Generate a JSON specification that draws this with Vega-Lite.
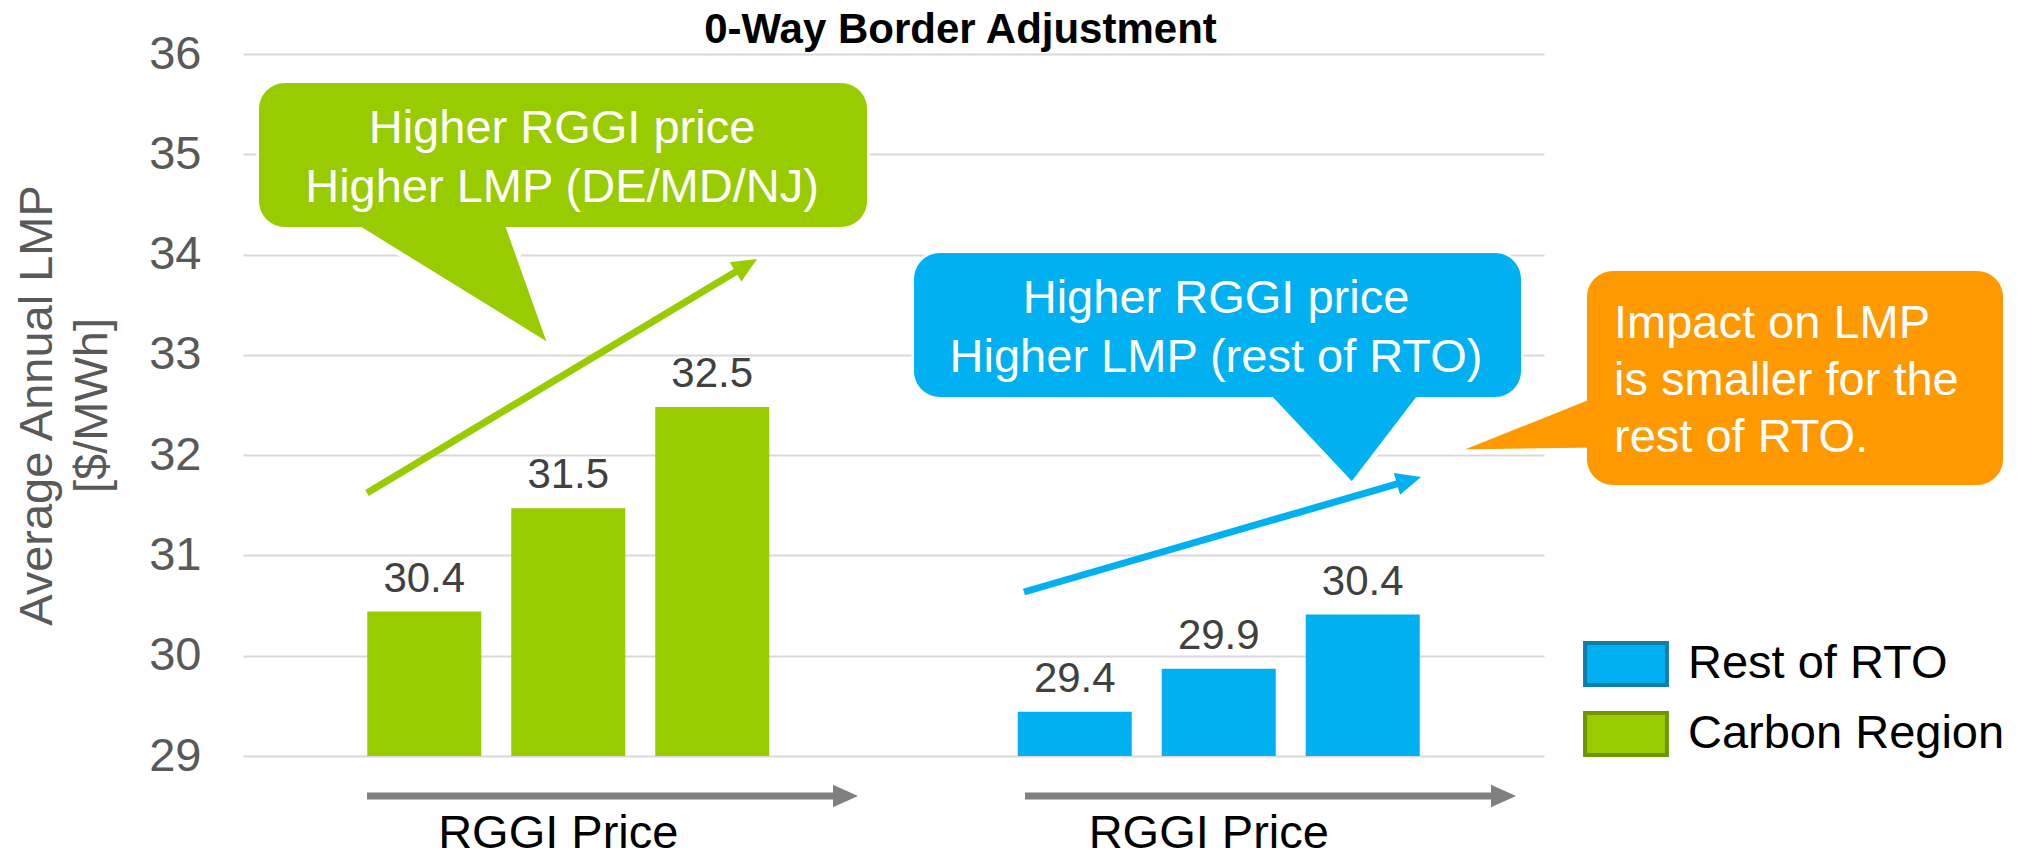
{
  "$schema": "https://vega.github.io/schema/vega-lite/v6.json",
  "width": 1301,
  "height": 702,
  "autosize": {"type": "none"},
  "padding": {"left": 243, "top": 54, "right": 488, "bottom": 102},
  "background": "white",
  "config": {"font": "Liberation Sans", "view": {"stroke": null}},
  "title": {"text": "0-Way Border Adjustment", "fontSize": 42, "fontWeight": "bold", "color": "black", "frame": "group", "anchor": "middle", "dx": 67, "offset": 0, "dy": 22},
  "datasets": {
    "bars": [
      {"region": "Carbon Region", "level": "Low", "value": 30.44},
      {"region": "Carbon Region", "level": "Mid", "value": 31.47},
      {"region": "Carbon Region", "level": "High", "value": 32.48},
      {"region": "Rest of RTO", "level": "Low", "value": 29.44},
      {"region": "Rest of RTO", "level": "Mid", "value": 29.87},
      {"region": "Rest of RTO", "level": "High", "value": 30.41}
    ],
    "boxes": [
      {"box": "green", "x1": 0.0246, "x2": 0.9593, "y1": 35.711, "y2": 34.275},
      {"box": "blue", "x1": 1.0315, "x2": 1.9646, "y1": 34.0157, "y2": 32.5798},
      {"box": "orange", "x1": 2.0661, "x2": 2.7056, "y1": 33.8362, "y2": 31.7023}
    ],
    "pointers": [
      {"box": "green", "i": 1, "px": 0.1522, "pv": 34.3647},
      {"box": "green", "i": 2, "px": 0.4735, "pv": 33.0783},
      {"box": "green", "i": 3, "px": 0.4028, "pv": 34.3647},
      {"box": "blue", "i": 1, "px": 1.5634, "pv": 32.6795},
      {"box": "blue", "i": 2, "px": 1.7048, "pv": 31.7023},
      {"box": "blue", "i": 3, "px": 1.8201, "pv": 32.6795},
      {"box": "orange", "i": 1, "px": 2.0815, "pv": 32.6097},
      {"box": "orange", "i": 2, "px": 1.8586, "pv": 32.0313},
      {"box": "orange", "i": 3, "px": 2.0815, "pv": 32.0513}
    ],
    "notes": [
      {"kind": "center", "note": "Higher RGGI price", "nx": 0.4904, "nv": 35.1125},
      {"kind": "center", "note": "Higher LMP (DE/MD/NJ)", "nx": 0.4904, "nv": 34.524},
      {"kind": "center", "note": "Higher RGGI price", "nx": 1.4958, "nv": 33.4174},
      {"kind": "center", "note": "Higher LMP (rest of RTO)", "nx": 1.4958, "nv": 32.8291},
      {"kind": "left", "note": "Impact on LMP", "nx": 2.1076, "nv": 33.1681},
      {"kind": "left", "note": "is smaller for the", "nx": 2.1076, "nv": 32.5997},
      {"kind": "left", "note": "rest of RTO.", "nx": 2.1076, "nv": 32.0313}
    ],
    "arrows": [
      {"arr": "green", "ax1": 0.1906, "av1": 31.6225, "ax2": 0.7703, "av2": 33.879},
      {"arr": "blue", "ax1": 1.2006, "av1": 30.6353, "ax2": 1.7888, "av2": 31.7402},
      {"arr": "gray", "ax1": 0.1906, "av1": 28.6011, "ax2": 0.9239, "av2": 28.6011},
      {"arr": "gray", "ax1": 1.2022, "av1": 28.6011, "ax2": 1.9355, "av2": 28.6011}
    ],
    "heads": [
      {"arr": "green", "hx": 0.7902, "hv": 33.9558, "ang": 329},
      {"arr": "blue", "hx": 1.8109, "hv": 31.7821, "ang": 344},
      {"arr": "gray", "hx": 0.9454, "hv": 28.6011, "ang": 0},
      {"arr": "gray", "hx": 1.957, "hv": 28.6011, "ang": 0}
    ]
  },
  "layer": [
    {
      "layer": [
        {
          "data": {"name": "bars"},
          "mark": {"type": "bar"},
          "encoding": {
            "x": {"field": "region", "type": "nominal",
              "scale": {"domain": ["Carbon Region", "Rest of RTO"], "paddingInner": 0, "paddingOuter": 0},
              "axis": {"title": null, "labelExpr": "'RGGI Price'", "labelFontSize": 47, "labelColor": "black", "labelLimit": 800, "ticks": false, "domain": false, "grid": false, "labelPadding": 91, "labelBaseline": "alphabetic", "labelOffset": -10, "labelAngle": 0}},
            "xOffset": {"field": "level", "type": "nominal", "scale": {"domain": ["Low", "Mid", "High"], "paddingInner": 0.2083, "paddingOuter": 0.863}},
            "y": {"field": "value", "type": "quantitative",
              "scale": {"domain": [29, 36], "nice": false, "zero": false},
              "axis": {"values": [29, 30, 31, 32, 33, 34, 35, 36], "format": "d", "title": ["Average Annual LMP", "[$/MWh]"], "titleFontSize": 47, "titleFontWeight": "normal", "titleColor": "#595959", "titleLineHeight": 55, "titlePadding": 32, "labelFontSize": 47, "labelColor": "#595959", "labelPadding": 42, "ticks": false, "domain": false, "gridColor": "#D9D9D9", "gridWidth": 2}},
            "y2": {"datum": 29},
            "color": {"field": "region", "type": "nominal",
              "scale": {"domain": ["Rest of RTO", "Carbon Region"], "range": ["#00B0F0", "#99CC00"]},
              "legend": {"title": null, "orient": "none", "legendX": 1378, "legendY": 585, "labelFontSize": 47, "labelColor": "black", "labelOffset": 17, "labelLimit": 600,
                "symbolType": "M-2.65,-0.91L0.91,-0.91L0.91,0.91L-2.65,0.91Z", "symbolSize": 2116, "rowPadding": 12, "symbolStrokeWidth": 4,
                "encode": {"symbols": {"update": {"stroke": {"signal": "datum.value === 'Rest of RTO' ? '#0C7FAD' : '#6F9500'"}, "strokeWidth": {"value": 4}}}}}}
          }
        },
        {
          "data": {"name": "bars"},
          "mark": {"type": "text", "baseline": "alphabetic", "dy": -20, "fontSize": 42, "color": "#404040"},
          "encoding": {
            "x": {"field": "region", "type": "nominal"},
            "xOffset": {"field": "level", "type": "nominal"},
            "y": {"field": "value", "type": "quantitative", "scale": {"domain": [29, 36], "nice": false, "zero": false}},
            "text": {"field": "value", "type": "quantitative", "format": ".1f"}
          }
        }
      ]
    },
    {
      "layer": [
        {
          "data": {"name": "arrows"},
          "mark": {"type": "rule", "strokeWidth": 7, "strokeCap": "butt"},
          "encoding": {
            "x": {"field": "ax1", "type": "quantitative", "scale": {"domain": [0, 2], "nice": false, "zero": false}, "axis": null},
            "x2": {"field": "ax2"},
            "y": {"field": "av1", "type": "quantitative", "scale": {"domain": [29, 36], "nice": false, "zero": false}, "axis": null},
            "y2": {"field": "av2"},
            "stroke": {"field": "arr", "type": "nominal", "scale": {"domain": ["green", "blue", "orange", "gray"], "range": ["#99CC00", "#00B0F0", "#FF9900", "#808080"]}, "legend": null}
          }
        },
        {
          "data": {"name": "heads"},
          "mark": {"type": "point", "shape": "M0,0L-2,-0.9L-2,0.9Z", "size": 625, "filled": true, "opacity": 1, "strokeWidth": 0},
          "encoding": {
            "x": {"field": "hx", "type": "quantitative", "scale": {"domain": [0, 2], "nice": false, "zero": false}, "axis": null},
            "y": {"field": "hv", "type": "quantitative", "scale": {"domain": [29, 36], "nice": false, "zero": false}, "axis": null},
            "angle": {"field": "ang", "type": "quantitative", "scale": null},
            "fill": {"field": "arr", "type": "nominal", "scale": {"domain": ["green", "blue", "orange", "gray"], "range": ["#99CC00", "#00B0F0", "#FF9900", "#808080"]}, "legend": null}
          }
        },
        {
          "data": {"name": "boxes"},
          "mark": {"type": "rect", "cornerRadius": 26, "stroke": "white", "strokeWidth": 5},
          "encoding": {
            "x": {"field": "x1", "type": "quantitative", "scale": {"domain": [0, 2], "nice": false, "zero": false}, "axis": null},
            "x2": {"field": "x2"},
            "y": {"field": "y1", "type": "quantitative", "scale": {"domain": [29, 36], "nice": false, "zero": false}, "axis": null},
            "y2": {"field": "y2"},
            "fill": {"field": "box", "type": "nominal", "scale": {"domain": ["green", "blue", "orange", "gray"], "range": ["#99CC00", "#00B0F0", "#FF9900", "#808080"]}, "legend": null}
          }
        },
        {
          "data": {"name": "pointers"},
          "mark": {"type": "line", "stroke": "white", "strokeWidth": 5, "strokeJoin": "miter", "strokeCap": "butt"},
          "encoding": {
            "x": {"field": "px", "type": "quantitative", "scale": {"domain": [0, 2], "nice": false, "zero": false}, "axis": null},
            "y": {"field": "pv", "type": "quantitative", "scale": {"domain": [29, 36], "nice": false, "zero": false}, "axis": null},
            "order": {"field": "i", "type": "quantitative"},
            "fill": {"field": "box", "type": "nominal", "scale": {"domain": ["green", "blue", "orange", "gray"], "range": ["#99CC00", "#00B0F0", "#FF9900", "#808080"]}, "legend": null}
          }
        },
        {
          "data": {"name": "boxes"},
          "mark": {"type": "rect", "cornerRadius": 26},
          "encoding": {
            "x": {"field": "x1", "type": "quantitative", "scale": {"domain": [0, 2], "nice": false, "zero": false}, "axis": null},
            "x2": {"field": "x2"},
            "y": {"field": "y1", "type": "quantitative", "scale": {"domain": [29, 36], "nice": false, "zero": false}, "axis": null},
            "y2": {"field": "y2"},
            "fill": {"field": "box", "type": "nominal", "scale": {"domain": ["green", "blue", "orange", "gray"], "range": ["#99CC00", "#00B0F0", "#FF9900", "#808080"]}, "legend": null}
          }
        },
        {
          "data": {"name": "notes"},
          "transform": [{"filter": "datum.kind === 'center'"}],
          "mark": {"type": "text", "align": "center", "baseline": "alphabetic", "fontSize": 47, "color": "white"},
          "encoding": {
            "x": {"field": "nx", "type": "quantitative", "scale": {"domain": [0, 2], "nice": false, "zero": false}, "axis": null},
            "y": {"field": "nv", "type": "quantitative", "scale": {"domain": [29, 36], "nice": false, "zero": false}, "axis": null},
            "text": {"field": "note"}
          }
        },
        {
          "data": {"name": "notes"},
          "transform": [{"filter": "datum.kind === 'left'"}],
          "mark": {"type": "text", "align": "left", "baseline": "alphabetic", "fontSize": 47, "color": "white"},
          "encoding": {
            "x": {"field": "nx", "type": "quantitative", "scale": {"domain": [0, 2], "nice": false, "zero": false}, "axis": null},
            "y": {"field": "nv", "type": "quantitative", "scale": {"domain": [29, 36], "nice": false, "zero": false}, "axis": null},
            "text": {"field": "note"}
          }
        }
      ]
    }
  ],
  "resolve": {"scale": {"x": "independent", "y": "independent"}}
}
